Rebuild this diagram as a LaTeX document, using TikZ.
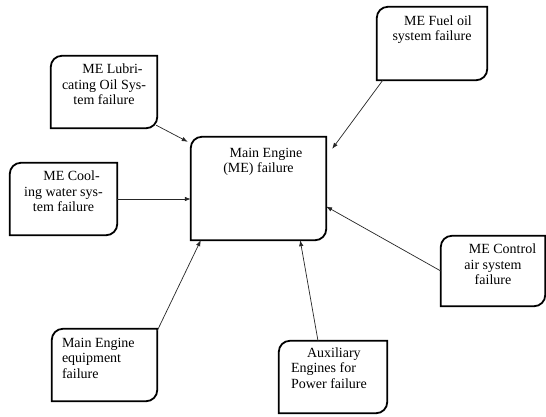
\documentclass[tikz,border=0pt]{standalone}
\usepackage{fontspec}
\setmainfont{Liberation Serif}
\newfontfamily\boxfont{Liberation Serif}
\usetikzlibrary{arrows.meta}

\newcommand{\boxtext}[5][17.5pt]{\parbox[c][#3][t]{#2}{#4\rule{0pt}{#1}#5}}

\begin{document}
\begin{tikzpicture}[x=1pt,y=1pt,
    fbox/.style={inner sep=0pt, font=\boxfont\fontsize{14}{15.5}\selectfont},
    boxline/.style={line width=1.8pt},
    arr/.style={-{Latex[length=6pt,width=4.5pt]}, line width=0.7pt, black!85}]
\fill[white] (0,0) rectangle (546,-416);
\useasboundingbox (0,0) rectangle (546,-416);

\node[fbox] (lub) at (104,-92) {\boxtext{106pt}{72pt}{\centering}{\hspace*{17pt}ME Lubri-\\cating Oil Sys-\\tem failure}};
\node[fbox] (fuel) at (432,-43.5) {\boxtext[18pt]{110pt}{73pt}{\centering}{\hspace*{12pt}ME Fuel oil\\system failure}};
\node[fbox] (cool) at (63.5,-199) {\boxtext{107pt}{72pt}{\centering}{\hspace*{16pt}ME Cool-\\ing water sys-\\tem failure}};
\node[fbox] (main) at (258.5,-188.5) {\boxtext[20pt]{135pt}{103pt}{\centering}{\hspace*{15pt}Main Engine\\(ME) failure}};
\node[fbox] (ctrl) at (493,-271) {\boxtext{104pt}{70pt}{\centering}{\hspace*{19pt}ME Control\\air system\\failure}};
\node[fbox] (equip) at (104.5,-365) {\boxtext[18pt]{105pt}{72pt}{\raggedright\leftskip=10pt}{Main Engine\\equipment\\failure}};
\node[fbox] (aux) at (333,-377) {\boxtext[16pt]{108pt}{72pt}{\raggedright\leftskip=12pt}{\hspace*{16pt}Auxiliary\\Engines for\\Power failure}};

% borders: round top left and bottom right only
\foreach \n in {lub,fuel,cool,main,ctrl,equip,aux}
    \draw[boxline] ([xshift=11pt]\n.north west) -- (\n.north east) -- ([yshift=11pt]\n.south east)
        arc[start angle=0, end angle=-90, radius=11pt] -- (\n.south west) -- ([yshift=-11pt]\n.north west)
        arc[start angle=180, end angle=90, radius=11pt] -- cycle;

\draw[arr] ([xshift=-1pt,yshift=3pt]lub.south east) -- ([xshift=-3pt,yshift=-5pt]main.north west);
\draw[arr] ([xshift=6pt]fuel.south west) -- ([xshift=6pt,yshift=-12pt]main.north east);
\draw[arr] (cool.east) -- (cool.east -| main.west);
\draw[arr] (ctrl.west) -- ([yshift=-18pt]main.east);
\draw[arr] ([yshift=-2pt]equip.north east) -- ([xshift=10pt]main.south west);
\draw[arr] ([xshift=-15pt]aux.north) -- ([xshift=-26pt]main.south east);
\end{tikzpicture}
\end{document}
